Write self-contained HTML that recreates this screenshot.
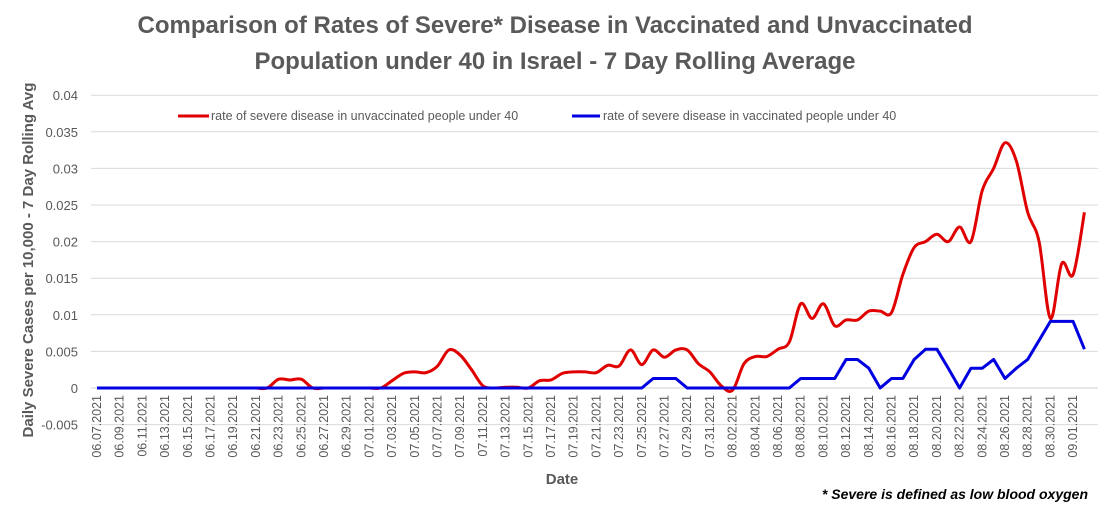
<!DOCTYPE html>
<html><head><meta charset="utf-8"><style>
body{margin:0;background:#fff;}
svg{display:block;font-family:"Liberation Sans",sans-serif;}
</style></head><body>
<svg id="chart" width="1110" height="527" viewBox="0 0 1110 527">
<g font-weight="bold" font-size="24" fill="#595959" text-anchor="middle">
<text x="555" y="33">Comparison of Rates of Severe* Disease in Vaccinated and Unvaccinated</text>
<text x="555" y="69">Population under 40 in Israel - 7 Day Rolling Average</text>
</g>
<g id="grid"></g>
<g id="yticks" font-size="13" fill="#595959" text-anchor="end"></g>
<g id="xticks" font-size="12.5" fill="#595959"></g>
<line x1="91" y1="388" x2="1098" y2="388" stroke="#d0d0d0" stroke-width="1"/>
<text transform="translate(33,260) rotate(-90)" text-anchor="middle" font-weight="bold" font-size="15" fill="#595959">Daily Severe Cases per 10,000 - 7 Day Rolling Avg</text>
<text x="562" y="484" text-anchor="middle" font-weight="bold" font-size="15" fill="#595959">Date</text>
<text x="1088" y="499" text-anchor="end" font-weight="bold" font-style="italic" font-size="14" fill="#000">* Severe is defined as low blood oxygen</text>
<g font-size="12.5" fill="#595959">
<g><line x1="178" y1="116" x2="209" y2="116" stroke="#e00000" stroke-width="3"/><text x="211" y="120">rate of severe disease in unvaccinated people under 40</text></g>
<g><line x1="572" y1="116" x2="600" y2="116" stroke="#0000e0" stroke-width="3"/><text x="603" y="120">rate of severe disease in vaccinated people under 40</text></g>
</g>
<g id="series"></g>
</svg>
<script>
const yTicks=[0.04,0.035,0.03,0.025,0.02,0.015,0.01,0.005,0,-0.005];
const yTickLabels=["0.04","0.035","0.03","0.025","0.02","0.015","0.01","0.005","0","-0.005"];
const startDate=[2021,6,7];
const unvaccinated=[0,0,0,0,0,0,0,0,0,0,0,0,0,0,0,0,0.0012,0.0011,0.0012,0,0,0,0,0,0,0,0.001,0.002,0.0022,0.0021,0.003,0.0052,0.0045,0.0025,0.0003,0,0.0001,0.0001,0,0.001,0.0011,0.002,0.0022,0.0022,0.0021,0.0031,0.003,0.0052,0.0032,0.0052,0.0042,0.0052,0.0052,0.0033,0.0022,0.0003,-0.0003,0.0033,0.0043,0.0043,0.0053,0.0063,0.0115,0.0095,0.0115,0.0085,0.0093,0.0093,0.0105,0.0105,0.0103,0.0155,0.0192,0.02,0.021,0.02,0.022,0.02,0.027,0.03,0.0335,0.031,0.024,0.02,0.0095,0.017,0.0155,0.024];
const vaccinated=[0,0,0,0,0,0,0,0,0,0,0,0,0,0,0,0,0,0,0,0,0,0,0,0,0,0,0,0,0,0,0,0,0,0,0,0,0,0,0,0,0,0,0,0,0,0,0,0,0,0.0013,0.0013,0.0013,0,0,0,0,0,0,0,0,0,0,0.0013,0.0013,0.0013,0.0013,0.0039,0.0039,0.0027,0,0.0013,0.0013,0.0039,0.0053,0.0053,0.0027,0,0.0027,0.0027,0.0039,0.0013,0.0027,0.0039,0.0065,0.0091,0.0091,0.0091,0.0053];
const NS='http://www.w3.org/2000/svg';
const x0=97,dx=11.35,y0=388,pxPer=36.6/0.005;
const xs=i=>x0+i*dx, ys=v=>y0-v*pxPer;
const grid=document.getElementById('grid'),yt=document.getElementById('yticks'),xt=document.getElementById('xticks'),ser=document.getElementById('series');
yTicks.forEach((v,k)=>{
 if(v!==0){const l=document.createElementNS(NS,'line');
 
 
 l.setAttribute('x1',91);l.setAttribute('x2',1098);l.setAttribute('y1',ys(v));l.setAttribute('y2',ys(v));l.setAttribute('stroke','#d9d9d9');grid.appendChild(l);}
 const t=document.createElementNS(NS,'text');
 
 
 t.setAttribute('x',78);t.setAttribute('y',ys(v)+5);t.textContent=yTickLabels[k];yt.appendChild(t);
});
const n=unvaccinated.length;
for(let i=0;i<n;i+=2){
 const d=new Date(startDate[0],startDate[1]-1,startDate[2]+i);
 const s=String(d.getMonth()+1).padStart(2,'0')+'.'+String(d.getDate()).padStart(2,'0')+'.'+d.getFullYear();
 const t=document.createElementNS(NS,'text');
 
 
 t.setAttribute('transform','translate('+(xs(i)+4)+',395) rotate(-90)');t.setAttribute('text-anchor','end');t.textContent=s;xt.appendChild(t);
}
function smooth(vals){
 const p=vals.map((v,i)=>[xs(i),ys(v)]);let d='M'+p[0][0]+','+p[0][1];
 for(let i=0;i<p.length-1;i++){const a=p[Math.max(0,i-1)],b=p[i],c=p[i+1],e=p[Math.min(p.length-1,i+2)];
 const c1=[b[0]+(c[0]-a[0])/6,b[1]+(c[1]-a[1])/6],c2=[c[0]-(e[0]-b[0])/6,c[1]-(e[1]-b[1])/6];
 d+=' C'+c1[0]+','+c1[1]+' '+c2[0]+','+c2[1]+' '+c[0]+','+c[1];}
 return d;}
const pb=document.createElementNS(NS,'polyline');


pb.setAttribute('points',vaccinated.map((v,i)=>xs(i)+','+ys(v)).join(' '));pb.setAttribute('fill','none');pb.setAttribute('stroke','#0000e0');pb.setAttribute('stroke-width','3');pb.setAttribute('stroke-linejoin','round');
const pr=document.createElementNS(NS,'path');


pr.setAttribute('d',smooth(unvaccinated));pr.setAttribute('fill','none');pr.setAttribute('stroke','#e00000');pr.setAttribute('stroke-width','3');
ser.appendChild(pr);ser.appendChild(pb);
</script>
</body></html>
